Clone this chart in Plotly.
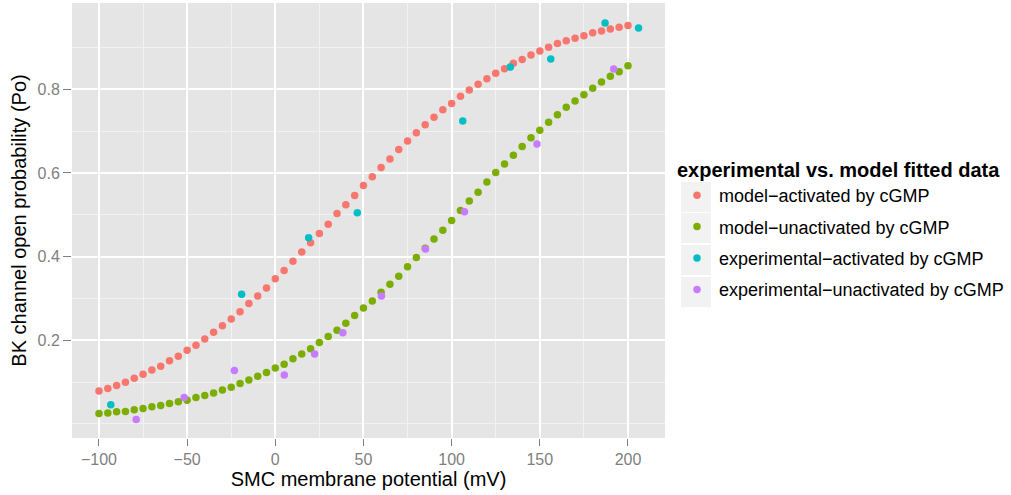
import plotly.graph_objects as go

# Model fits: membrane potential grid (mV) and fitted open probability
model_v = list(range(-100, 201, 5))

model_activated = [
    0.079, 0.085, 0.092, 0.100, 0.109, 0.119, 0.129, 0.138, 0.151, 0.162,
    0.176, 0.188, 0.203, 0.219, 0.235, 0.251, 0.268, 0.288, 0.306, 0.325,
    0.347, 0.367, 0.389, 0.411, 0.433, 0.455, 0.477, 0.503, 0.524, 0.546,
    0.570, 0.591, 0.613, 0.633, 0.656, 0.676, 0.696, 0.715, 0.733, 0.751,
    0.766, 0.783, 0.798, 0.812, 0.825, 0.838, 0.849, 0.862, 0.871, 0.882,
    0.891, 0.900, 0.909, 0.916, 0.922, 0.928, 0.935, 0.939, 0.944, 0.948,
    0.952,
]

model_unactivated = [
    0.025, 0.026, 0.029, 0.030, 0.034, 0.037, 0.041, 0.044, 0.049, 0.053,
    0.057, 0.063, 0.068, 0.074, 0.081, 0.088, 0.097, 0.105, 0.114, 0.123,
    0.134, 0.143, 0.156, 0.167, 0.180, 0.195, 0.209, 0.224, 0.241, 0.259,
    0.277, 0.294, 0.315, 0.334, 0.353, 0.376, 0.398, 0.420, 0.442, 0.463,
    0.486, 0.510, 0.533, 0.554, 0.578, 0.601, 0.621, 0.642, 0.663, 0.684,
    0.702, 0.721, 0.739, 0.757, 0.772, 0.787, 0.802, 0.817, 0.831, 0.842,
    0.856,
]

# Experimental recordings
exp_act_v = [-93.3, -19.1, 18.9, 46.5, 106.3, 133.3, 156.2, 187.0, 206.0]
exp_act_po = [0.046, 0.310, 0.445, 0.505, 0.724, 0.853, 0.872, 0.958, 0.946]

exp_unact_v = [-78.9, -51.7, -23.2, 5.1, 22.3, 38.3, 60.2, 85.2, 107.3, 148.4, 191.9]
exp_unact_po = [0.011, 0.063, 0.128, 0.117, 0.167, 0.218, 0.306, 0.418, 0.507, 0.669, 0.848]

series_names = [
    "model\u2212activated by cGMP",
    "model\u2212unactivated by cGMP",
    "experimental\u2212activated by cGMP",
    "experimental\u2212unactivated by cGMP",
]
series_colors = ["#F8766D", "#7CAE00", "#00BFC4", "#C77CFF"]

x_ticks = [-100, -50, 0, 50, 100, 150, 200]
x_minor = [-75, -25, 25, 75, 125, 175]
y_ticks = [0.2, 0.4, 0.6, 0.8]
y_minor = [0.0, 0.1, 0.3, 0.5, 0.7, 0.9]

W, H = 1011, 495
M_L, M_R, M_T, M_B = 72, 346, 3, 57
FONT = "Liberation Sans, Arial, sans-serif"

fig = go.Figure()
series = [
    (model_v, model_activated),
    (model_v, model_unactivated),
    (exp_act_v, exp_act_po),
    (exp_unact_v, exp_unact_po),
]
for i, ((xs, ys), name, col) in enumerate(zip(series, series_names, series_colors)):
    fig.add_trace(go.Scatter(
        x=xs, y=ys, mode="markers", name=name,
        legendgroup=f"g{i}",
        marker=dict(color=col, size=7.5, line=dict(width=0)),
    ))

# grey key boxes behind legend symbols (pixel -> paper conversion)
pw = W - M_L - M_R
ph = H - M_T - M_B
key_left, key_right = 681, 711
key_tops = [182, 213, 245, 277]
for top in key_tops:
    fig.add_shape(
        type="rect", xref="paper", yref="paper", layer="below",
        x0=(key_left - M_L) / pw, x1=(key_right - M_L) / pw,
        y0=1 - (top + 30 - M_T) / ph, y1=1 - (top - M_T) / ph,
        fillcolor="#F2F2F2", line=dict(width=0),
    )

tick_font = dict(family=FONT, size=16, color="#7F7F7F")
grid = dict(showline=False, zeroline=False, ticks="outside", tickwidth=1,
            tickcolor="#7F7F7F", gridcolor="#FFFFFF", gridwidth=1.6,
            tickfont=tick_font)

fig.update_layout(
    width=W, height=H,
    margin=dict(l=M_L, r=M_R, t=M_T, b=M_B),
    paper_bgcolor="#FFFFFF",
    plot_bgcolor="#E5E5E5",
    font=dict(family=FONT, color="#000000"),
    xaxis=dict(
        range=[-115.3, 221.0], tickmode="array", tickvals=x_ticks, ticklen=7,
        minor=dict(tickmode="array", tickvals=x_minor, showgrid=True,
                   gridcolor="#F2F2F2", gridwidth=0.8, ticks=""),
        title=dict(text="SMC membrane potential (mV)", font=dict(size=20), standoff=4),
        **grid,
    ),
    yaxis=dict(
        range=[-0.0335, 1.006], tickmode="array", tickvals=y_ticks, ticklen=8,
        ticktext=[f"{v:.1f}" for v in y_ticks],
        minor=dict(tickmode="array", tickvals=y_minor, showgrid=True,
                   gridcolor="#F2F2F2", gridwidth=0.8, ticks=""),
        title=dict(text="BK channel open probability (Po)", font=dict(size=20), standoff=5),
        **grid,
    ),
    legend=dict(
        title=dict(text="<b>experimental vs. model fitted data</b>",
                   font=dict(size=20)),
        xref="container", yref="container",
        x=675 / W, y=1 - 151 / H, xanchor="left", yanchor="top",
        font=dict(size=18), bgcolor="rgba(0,0,0,0)",
        tracegroupgap=5, traceorder="grouped", itemwidth=34,
    ),
    showlegend=True,
)

fig.write_html("out.html")
